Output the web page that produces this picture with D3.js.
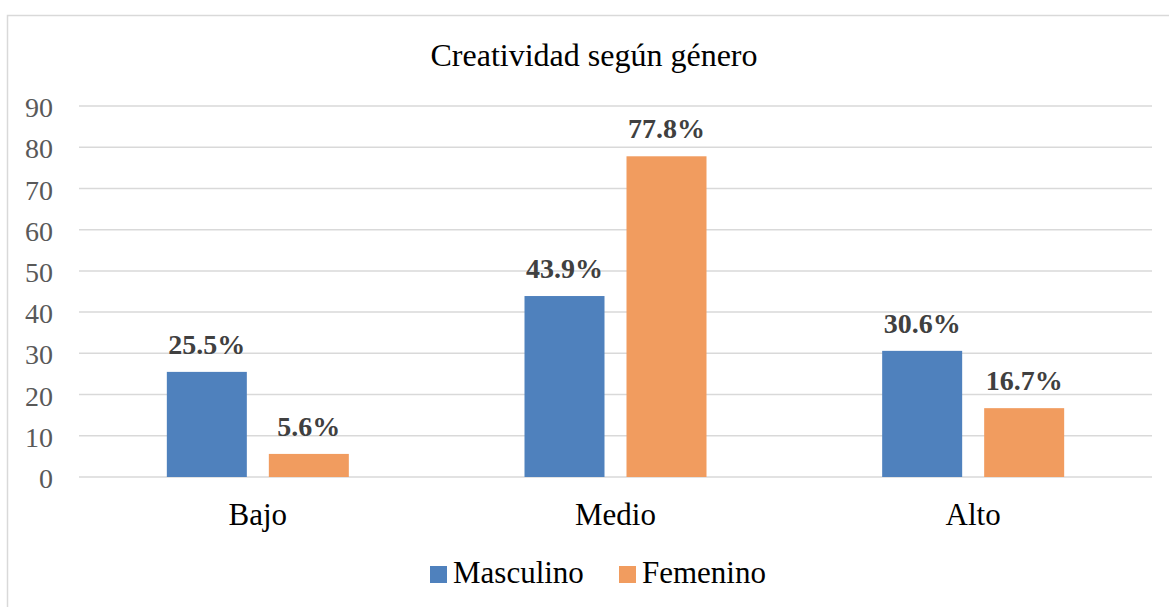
<!DOCTYPE html>
<html><head><meta charset="utf-8">
<script src="https://cdn.jsdelivr.net/npm/d3@7/dist/d3.min.js"></script>
<style>body{margin:0;background:#fff;} svg{display:block;}</style>
</head><body>
<svg id="c" width="1169" height="607" font-family="Liberation Serif" style="font-family:'Liberation Serif'"></svg>
<script>
const categories = ["Bajo", "Medio", "Alto"];
const seriesNames = ["Masculino", "Femenino"];
const masculino = [25.5, 43.9, 30.6];
const femenino = [5.6, 77.8, 16.7];
const yTicks = [0, 10, 20, 30, 40, 50, 60, 70, 80, 90];
const colors = ["#4f81bd", "#f19c5f"];
const title = "Creatividad según género";

const FONT = '"Liberation Serif", "Times New Roman", serif';
function ff(sel) { return sel.attr("font-family", "Liberation Serif").style("font-family", FONT); }
const svg = d3.select("#c");
svg.append("rect").attr("x", 7.5).attr("y", 15.5).attr("width", 1180).attr("height", 620)
  .attr("fill", "#fff").attr("stroke", "#d9d9d9").attr("stroke-width", 1.5);

const m = {left: 79, right: 1152, top: 106, bottom: 477};
const x = d3.scaleBand().domain(categories).range([m.left, m.right]);
const y = d3.scaleLinear().domain([0, 90]).range([m.bottom, m.top]);
const x1 = d3.scaleBand().domain(seriesNames).range([0, 182]).paddingInner(22/102);

svg.append("g").selectAll("line").data(yTicks).join("line")
  .attr("x1", m.left).attr("x2", m.right)
  .attr("y1", d => y(d)).attr("y2", d => y(d))
  .attr("stroke", "#d9d9d9").attr("stroke-width", 1.5);

const ya = svg.append("g").attr("transform", `translate(${m.left},0)`)
  .call(d3.axisLeft(y).tickValues(yTicks).tickSize(0).tickPadding(26));
ya.select(".domain").remove();
ff(ya);
ff(ya.selectAll("text")).attr("font-size", 28).attr("fill", "#595959").attr("dy", "0.38em");

const xa = svg.append("g").attr("transform", `translate(0,${m.bottom})`)
  .call(d3.axisBottom(x).tickSize(0).tickPadding(26));
xa.select(".domain").remove();
ff(xa);
ff(xa.selectAll("text")).attr("font-size", 31).attr("fill", "#000");

const data = categories.map((c, i) => ({cat: c, vals: [masculino[i], femenino[i]]}));
const groups = svg.append("g").selectAll("g").data(data).join("g")
  .attr("transform", d => `translate(${x(d.cat) + x.bandwidth()/2 - 91},0)`);
ff(groups);
groups.selectAll("rect").data(d => d.vals.map((v, j) => ({s: seriesNames[j], v, j}))).join("rect")
  .attr("x", d => x1(d.s)).attr("width", x1.bandwidth())
  .attr("y", d => y(d.v)).attr("height", d => y(0) - y(d.v))
  .attr("fill", d => colors[d.j]);
ff(groups.selectAll("text").data(d => d.vals.map((v, j) => ({s: seriesNames[j], v, j}))).join("text"))
  .attr("x", d => x1(d.s) + x1.bandwidth()/2).attr("y", d => y(d.v) - 18)
  .attr("text-anchor", "middle").attr("font-size", 28)
  .attr("font-weight", "bold").attr("fill", "#404040")
  .text(d => d.v.toFixed(1) + "%");

ff(svg.append("text")).attr("x", 594).attr("y", 66).attr("text-anchor", "middle")
  .attr("font-size", 32).attr("fill", "#000").text(title);

const legX = [430, 619];
const leg = svg.append("g").selectAll("g").data(seriesNames).join("g")
  .attr("transform", (d, i) => `translate(${legX[i]},566)`);
ff(leg);
leg.append("rect").attr("width", 17).attr("height", 17).attr("fill", (d, i) => colors[i]);
ff(leg.append("text")).attr("x", 23).attr("y", 17).attr("font-size", 31)
  .attr("fill", "#000").text(d => d);
</script>
</body></html>
